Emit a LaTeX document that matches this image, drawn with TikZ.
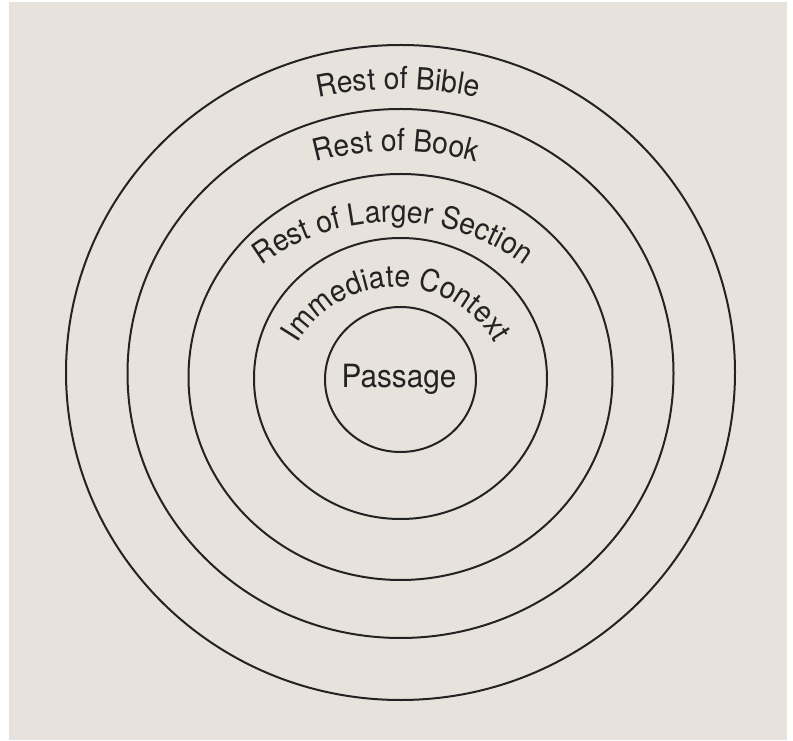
\documentclass[tikz,border=0pt]{standalone}
\usepackage{fontspec}
\setmainfont{TeX Gyre Heros}[FakeStretch=0.93]
\usetikzlibrary{decorations.text}
\definecolor{Paper}{HTML}{E8E2DD}
\definecolor{Ink}{HTML}{232323}
\newcommand\ringfont{\fontsize{30.5}{32}\selectfont}
\tikzset{
 ring/.style={draw=Ink,line width=2pt},
 arclabel/.style={decorate,decoration={text along path,text align=center,text color=Ink,text={|\ringfont|#1}}}
}
\begin{document}
\begin{tikzpicture}[x=1pt,y=1pt]
\useasboundingbox (0,0) rectangle (793,740);
\fill[Paper] (9,0) rectangle (787,738);
% rings, inner to outer
\foreach \cy/\rx/\ry in {360.5/75.5/72.5,361.5/146.5/140.5,363/212/203,366.5/273/264.5,367.5/334.5/327.5}
 \draw[ring] (400.5,\cy) ellipse[x radius=\rx,y radius=\ry];
\node[font=\fontsize{32}{34}\selectfont,text=Ink,anchor=base] (passage) at (399,352) {Passage};
% curved labels
\path[arclabel={Immediate Context}] (396.5,339) ++(170:114) arc[start angle=170,end angle=10,radius=114];
\path[arclabel={Rest of Larger Section}] (393,296) ++(140:222) arc[start angle=140,end angle=40,radius=222];
\path[arclabel={Rest of Book}] (396,289) ++(120:300) arc[start angle=120,end angle=60,radius=300];
\path[arclabel={Rest of Bible}] (398,270) ++(120:381) arc[start angle=120,end angle=60,radius=381];
\end{tikzpicture}
\end{document}
